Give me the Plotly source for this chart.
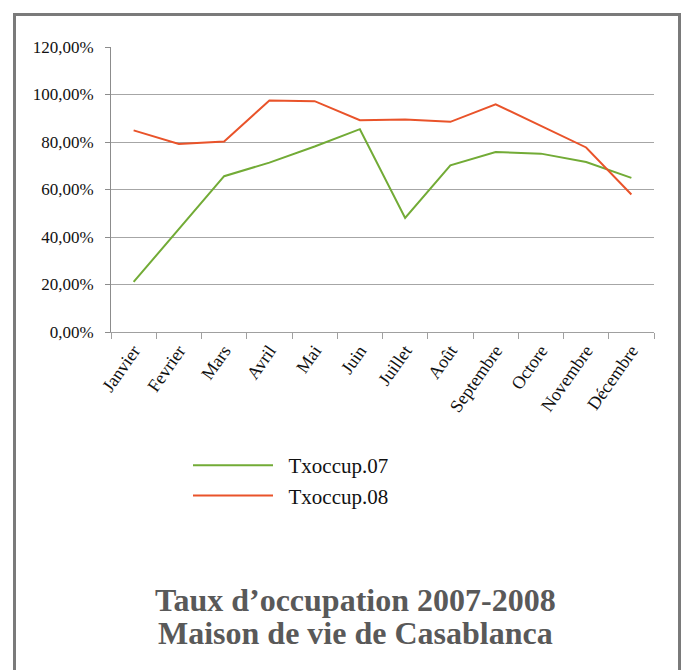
import plotly.graph_objects as go

months = ["Janvier", "Fevrier", "Mars", "Avril", "Mai", "Juin", "Juillet",
          "Août", "Septembre", "Octore", "Novembre", "Décembre"]
tx07 = [0.211, 0.434, 0.656, 0.713, 0.781, 0.854, 0.480, 0.702, 0.758, 0.751, 0.716, 0.649]
tx08 = [0.849, 0.792, 0.802, 0.975, 0.972, 0.892, 0.895, 0.885, 0.959, 0.868, 0.777, 0.579]
y_ticks = [0, 0.2, 0.4, 0.6, 0.8, 1.0, 1.2]
series_names = ["Txoccup.07", "Txoccup.08"]
title_lines = ["Taux d’occupation 2007-2008", "Maison de vie de Casablanca"]

FONT = "Liberation Serif"
W, H = 683, 670
L, R, T, B = 111, 29, 47, 338
PW, PH = W - L - R, H - T - B

def px_x(x):
    return (x - L) / PW

def px_y(y):
    return 1 - (y - T) / PH

PAD = "\u00a0\u00a0"

fig = go.Figure()
fig.add_trace(go.Scatter(x=months, y=tx07, mode="lines", name=PAD + series_names[0],
                         line=dict(color="#72ab36", width=2)))
fig.add_trace(go.Scatter(x=months, y=tx08, mode="lines", name=PAD + series_names[1],
                         line=dict(color="#e9532a", width=2)))

annotations = []
for txt, yc in zip(title_lines, [600, 633]):
    annotations.append(dict(text="<b>" + txt + "</b>", xref="paper", yref="paper",
                            x=px_x(355), y=px_y(yc), xanchor="center", yanchor="middle",
                            showarrow=False,
                            font=dict(family=FONT, size=32, color="#595959")))

fig.update_layout(
    width=W, height=H,
    margin=dict(l=L, r=R, t=T, b=B, pad=0),
    paper_bgcolor="white", plot_bgcolor="white",
    separators=", ",
    font=dict(family=FONT, size=16, color="#111111"),
    showlegend=True,
    legend=dict(x=px_x(188), y=px_y(445), xanchor="left", yanchor="top",
                font=dict(family=FONT, size=21, color="#111111"),
                itemwidth=80, bgcolor="rgba(0,0,0,0)"),
    annotations=annotations,
    shapes=[dict(type="rect", xref="paper", yref="paper",
                 x0=px_x(14.5), x1=px_x(679.5), y0=px_y(14.5), y1=px_y(700),
                 line=dict(color="#7a7a7a", width=3), fillcolor="rgba(0,0,0,0)",
                 layer="above")],
)

fig.update_yaxes(range=[0, 1.2], tickvals=y_ticks, tickformat=".2%",
                 showgrid=True, gridcolor="#a6a6a6", gridwidth=1,
                 showline=True, linecolor="#8c8c8c", linewidth=1,
                 ticks="outside", ticklen=5, tickcolor="#8c8c8c",
                 zeroline=False, ticklabelstandoff=8,
                 tickfont=dict(family=FONT, size=17, color="#111111"))
fig.update_xaxes(type="category", tickson="boundaries", ticks="outside",
                 ticklen=6, tickcolor="#a0a0a0", showgrid=False,
                 showline=True, linecolor="#a0a0a0", linewidth=1,
                 tickangle=-55, range=[-0.5, 11.5],
                 tickfont=dict(family=FONT, size=18, color="#111111"))

fig.write_html("out.html", config={"displayModeBar": False},
               post_script="document.body.style.margin='0';")
